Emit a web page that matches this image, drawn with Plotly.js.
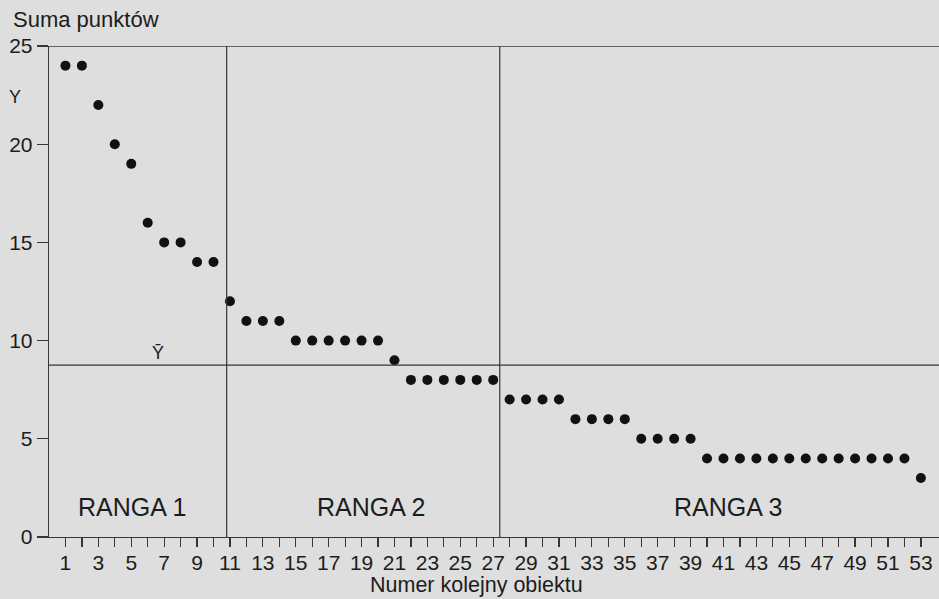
<!DOCTYPE html>
<html>
<head>
<meta charset="utf-8">
<script src="https://cdn.plot.ly/plotly-3.0.1.min.js"></script>
<style>
  html, body { margin: 0; padding: 0; background: #dedede; }
  #chart { width: 939px; height: 599px; }
</style>
</head>
<body>
<div id="chart"></div>
<script>
// Numer kolejny obiektu (object number)
const objectIds = [];
for (let i = 1; i <= 53; i++) objectIds.push(i);

// Suma punktów (total points), sorted descending
const sumPoints = [
  24, 24, 22, 20, 19, 16, 15, 15, 14, 14,
  12, 11, 11, 11, 10, 10, 10, 10, 10, 10,
  9, 8, 8, 8, 8, 8, 8, 7, 7, 7,
  7, 6, 6, 6, 6, 5, 5, 5, 5, 4,
  4, 4, 4, 4, 4, 4, 4, 4, 4, 4,
  4, 4, 3
];

// Tick labels shown on the x axis (odd numbers only)
const xTickLabels = objectIds.map(n => (n % 2 === 1 ? String(n) : ''));
const yTickValues = [0, 5, 10, 15, 20, 25];

// Mean level and rank boundaries
const meanY = 8.75;
const rankBoundaries = [10.8, 27.4];
const rankLabels = ['RANGA 1', 'RANGA 2', 'RANGA 3'];
const rankLabelX = [5.05, 19.6, 41.3];

const ink = '#1c1c1c';
const lineCol = '#363636';
const font = 'Liberation Sans, Arial, sans-serif';

const trace = {
  type: 'scatter',
  mode: 'markers',
  x: objectIds,
  y: sumPoints,
  marker: { color: '#111111', size: 10 },
  hoverinfo: 'x+y',
  showlegend: false
};

const shapes = [
  // mean line
  { type: 'line', xref: 'paper', x0: 0, x1: 1, yref: 'y', y0: meanY, y1: meanY,
    line: { color: lineCol, width: 1.3 } },
  // top line at 25
  { type: 'line', xref: 'paper', x0: 0, x1: 1, yref: 'y', y0: 25, y1: 25,
    line: { color: lineCol, width: 1.3 } }
];
rankBoundaries.forEach(b => shapes.push({
  type: 'line', xref: 'x', x0: b, x1: b, yref: 'y', y0: 0, y1: 25,
  line: { color: lineCol, width: 1.2 }
}));

const annotations = [
  { text: 'Suma punktów', xref: 'paper', yref: 'paper', x: -0.043, y: 1.0, yshift: 27,
    xanchor: 'left', yanchor: 'middle', showarrow: false,
    font: { family: font, size: 22, color: ink } },
  { text: 'Y', xref: 'paper', yref: 'y', x: -0.0385, y: 22.4,
    xanchor: 'center', yanchor: 'middle', showarrow: false,
    font: { family: font, size: 18, color: ink } },
  { text: 'Ȳ', xref: 'x', yref: 'y', x: 6.63, y: 9.35,
    xanchor: 'center', yanchor: 'middle', showarrow: false,
    font: { family: font, size: 18, color: ink } },
  { text: 'Numer kolejny obiektu', xref: 'x', yref: 'paper', x: 25.96, y: 0, yshift: -48,
    xanchor: 'center', yanchor: 'middle', showarrow: false,
    font: { family: font, size: 21.5, color: ink } }
];
rankLabels.forEach((t, i) => annotations.push({
  text: t, xref: 'x', yref: 'y', x: rankLabelX[i], y: 1.55,
  xanchor: 'center', yanchor: 'middle', showarrow: false,
  font: { family: font, size: 25, color: ink }
}));

const layout = {
  width: 939,
  height: 599,
  margin: { l: 49, r: 0, t: 46, b: 62 },
  paper_bgcolor: '#dedede',
  plot_bgcolor: '#dedede',
  font: { family: font, color: ink },
  xaxis: {
    range: [0, 54.1],
    tickmode: 'array',
    tickvals: objectIds,
    ticktext: xTickLabels,
    ticks: 'outside',
    ticklen: 9,
    tickwidth: 1.2,
    tickcolor: lineCol,
    ticklabelstandoff: -3,
    showline: true,
    linecolor: lineCol,
    linewidth: 1.3,
    showgrid: false,
    zeroline: false,
    tickfont: { family: font, size: 21, color: ink },
    fixedrange: true
  },
  yaxis: {
    range: [0, 25],
    tickmode: 'array',
    tickvals: yTickValues,
    ticks: 'outside',
    ticklen: 11,
    tickwidth: 1.2,
    tickcolor: lineCol,
    showline: true,
    linecolor: lineCol,
    linewidth: 1.3,
    showgrid: false,
    zeroline: false,
    tickfont: { family: font, size: 21, color: ink },
    fixedrange: true
  },
  shapes: shapes,
  annotations: annotations
};

Plotly.newPlot('chart', [trace], layout, { displayModeBar: false, staticPlot: true });
</script>
</body>
</html>
